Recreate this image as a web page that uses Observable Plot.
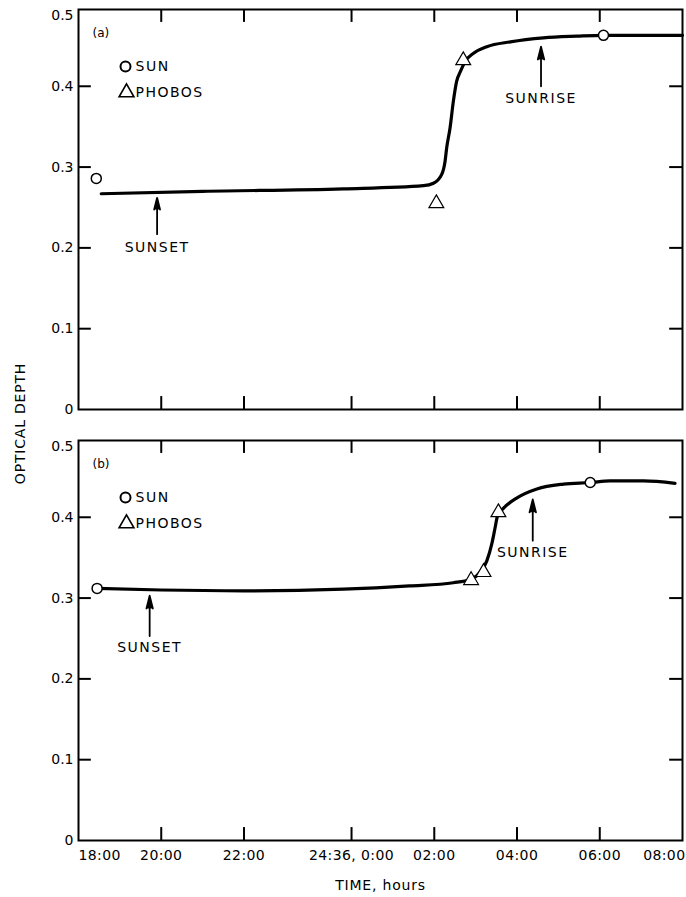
<!DOCTYPE html>
<html>
<head>
<meta charset="utf-8">
<script src="https://cdn.jsdelivr.net/npm/d3@7"></script>
<script src="https://cdn.jsdelivr.net/npm/@observablehq/plot@0.6"></script>
<style>
  html, body { margin: 0; padding: 0; background: white; }
</style>
</head>
<body>
<div id="chart"></div>
<script>
// ---- axis ticks (hours since 18:00; Mars sol of 24:36) ----
const xTickHours  = [0, 2, 4, 6.6, 8.6, 10.6, 12.6, 14.6];
const xTickLabels = ["18:00", "20:00", "22:00", "24:36, 0:00", "02:00", "04:00", "06:00", "08:00"];
const yTicks      = [0, 0.1, 0.2, 0.3, 0.4, 0.5];
const yTickLabels = ["0", "0.1", "0.2", "0.3", "0.4", "0.5"];

const panels      = ["a", "b"];
const panelLabels = ["(a)", "(b)"];

// ---- panel (a) ----
const curveA_hours = [0.55, 3.0, 6.4, 8.34, 8.58, 8.78, 8.86, 8.90, 8.98, 9.06, 9.14, 9.23, 9.35, 9.55, 9.87, 10.44, 11.24, 12.05, 12.69, 14.6];
const curveA_depth = [0.267, 0.270, 0.273, 0.277, 0.280, 0.291, 0.307, 0.324, 0.348, 0.381, 0.406, 0.418, 0.431, 0.441, 0.449, 0.455, 0.460, 0.462, 0.463, 0.463];
const sunA_hours    = [0.43, 12.69];
const sunA_depth    = [0.286, 0.463];
const phobosA_hours = [8.65, 9.3];
const phobosA_depth = [0.255, 0.432];

// ---- panel (b) ----
const curveB_hours = [0.45, 2.0, 4.0, 6.4, 8.0, 9.06, 9.47, 9.71, 9.87, 9.99, 10.07, 10.13, 10.27, 10.6, 11.08, 11.72, 12.37, 12.85, 13.66, 14.42];
const curveB_depth = [0.312, 0.310, 0.309, 0.311, 0.315, 0.319, 0.323, 0.332, 0.346, 0.367, 0.387, 0.402, 0.411, 0.424, 0.435, 0.441, 0.443, 0.445, 0.445, 0.442];
const sunB_hours    = [0.45, 12.37];
const sunB_depth    = [0.312, 0.443];
const phobosB_hours = [9.49, 9.79, 10.15];
const phobosB_depth = [0.322, 0.332, 0.406];

// ---- annotations ----
const noteLabels = ["SUNSET", "SUNRISE", "SUNSET", "SUNRISE"];
const notePanel  = ["a", "a", "b", "b"];
const noteHour   = [1.90, 11.18, 1.72, 10.98];
const noteTip    = [0.262, 0.449, 0.303, 0.422];
const noteTail   = [0.217, 0.400, 0.253, 0.371];
const noteText   = [0.201, 0.385, 0.239, 0.356];

const legendNames = ["SUN", "PHOBOS"];

// ---- build tables ----
const curves = [
  ...curveA_hours.map((h, i) => ({panel: "a", hour: h, depth: curveA_depth[i]})),
  ...curveB_hours.map((h, i) => ({panel: "b", hour: h, depth: curveB_depth[i]}))
];
const suns = [
  ...sunA_hours.map((h, i) => ({panel: "a", hour: h, depth: sunA_depth[i]})),
  ...sunB_hours.map((h, i) => ({panel: "b", hour: h, depth: sunB_depth[i]}))
];
const phobos = [
  ...phobosA_hours.map((h, i) => ({panel: "a", hour: h, depth: phobosA_depth[i]})),
  ...phobosB_hours.map((h, i) => ({panel: "b", hour: h, depth: phobosB_depth[i]}))
];
const notes = noteLabels.map((t, i) => ({label: t, panel: notePanel[i], hour: noteHour[i], tip: noteTip[i], tail: noteTail[i], text: noteText[i]}));
const xTicks = xTickHours.map((h, i) => ({hour: h, label: xTickLabels[i]}));
const yLab = yTicks.map((v, i) => ({v, label: yTickLabels[i]}));

const X0 = 0, X1 = 14.6, Y0 = 0, Y1 = 0.495;
const tickLenX = 0.31;   // hours ≈ 13px
const tickLenY = 0.016;  // depth ≈ 13px
const innerX = xTickHours.slice(1, -1);
const innerY = yTicks.slice(1, -1);

const font = "DejaVu Sans";

const chart = Plot.plot({
  width: 686,
  height: 897,
  marginLeft: 78,
  marginRight: 4,
  marginTop: 8,
  marginBottom: 57,
  style: {fontFamily: font, fontSize: "14px", background: "white", color: "black"},
  x: {domain: [X0, X1], axis: null},
  y: {domain: [Y0, Y1], axis: null},
  fy: {domain: panels, axis: null, paddingInner: 0.072, paddingOuter: 0, label: null},
  marks: [
    Plot.frame({stroke: "black", strokeWidth: 2}),
    // inward ticks
    Plot.ruleY(innerY, {y: d => d, x1: X0, x2: X0 + tickLenX, stroke: "black", strokeWidth: 2}),
    Plot.ruleY(innerY, {y: d => d, x1: X1 - tickLenX, x2: X1, stroke: "black", strokeWidth: 2}),
    Plot.ruleX(innerX, {x: d => d, y1: Y0, y2: Y0 + tickLenY, stroke: "black", strokeWidth: 2}),
    Plot.ruleX(innerX, {x: d => d, y1: Y1 - tickLenY, y2: Y1, stroke: "black", strokeWidth: 2}),
    // y tick labels
    Plot.text(yLab.slice(0, -1), {x: () => X0, y: "v", text: "label", textAnchor: "end", lineAnchor: "middle", dx: -5, fontSize: 14}),
    Plot.text(yLab.slice(-1), {x: () => X0, y: () => Y1, text: "label", textAnchor: "end", lineAnchor: "top", dx: -5, dy: 1, fontSize: 14}),
    // x tick labels (bottom panel only)
    Plot.text(xTicks.slice(0, 1), {x: "hour", y: () => Y0, fy: () => "b", text: "label", textAnchor: "start", lineAnchor: "middle", dy: 15, fontSize: 14}),
    Plot.text(xTicks.slice(1, -1), {x: "hour", y: () => Y0, fy: () => "b", text: "label", textAnchor: "middle", lineAnchor: "middle", dy: 15, fontSize: 14}),
    Plot.text(xTicks.slice(-1), {x: "hour", y: () => Y0, fy: () => "b", text: "label", textAnchor: "end", lineAnchor: "middle", dx: 3, dy: 15, fontSize: 14}),
    // axis titles
    Plot.text(["TIME, hours"], {x: null, y: null, fy: () => "b", frameAnchor: "bottom", textAnchor: "middle", lineAnchor: "middle", dy: 45, fontSize: 14}),
    Plot.text(["OPTICAL DEPTH"], {x: null, y: null, fy: () => "b", frameAnchor: "top-left", textAnchor: "middle", lineAnchor: "middle", dx: -58, dy: -17, rotate: -90, fontSize: 14}),
    // panel labels
    Plot.text(panels, {x: null, y: null, fy: d => d, text: (d, i) => panelLabels[i], frameAnchor: "top-left", dx: 14, dy: 24, textAnchor: "start", lineAnchor: "middle", fontSize: 12}),
    // legend
    Plot.dot([legendNames[0]], {x: null, y: null, frameAnchor: "top-left", dx: 47, dy: 57, r: 5, symbol: "circle", fill: "white", stroke: "black", strokeWidth: 2}),
    Plot.dot([legendNames[1]], {x: null, y: null, frameAnchor: "top-left", dx: 48, dy: 83, r: 5.5, symbol: "triangle", fill: "white", stroke: "black", strokeWidth: 1.6}),
    Plot.text([legendNames[0]], {x: null, y: null, frameAnchor: "top-left", dx: 57, dy: 57, textAnchor: "start", lineAnchor: "middle", fontSize: 14}),
    Plot.text([legendNames[1]], {x: null, y: null, frameAnchor: "top-left", dx: 57, dy: 83, textAnchor: "start", lineAnchor: "middle", fontSize: 14}),
    // data curve
    Plot.line(curves, {x: "hour", y: "depth", fy: "panel", z: "panel", curve: "monotone-x", stroke: "black", strokeWidth: 3.2}),
    // measurements
    Plot.dot(phobos, {x: "hour", y: "depth", fy: "panel", symbol: "triangle", r: 5.5, fill: "white", stroke: "black", strokeWidth: 1.2}),
    Plot.dot(suns, {x: "hour", y: "depth", fy: "panel", symbol: "circle", r: 5, fill: "white", stroke: "black", strokeWidth: 1.5}),
    // annotation arrows
    Plot.arrow(notes, {x1: "hour", x2: "hour", y1: "tail", y2: "tip", fy: "panel", stroke: "black", fill: "black", strokeWidth: 1.8, headLength: 11, headAngle: 28}),
    Plot.text(notes, {x: "hour", y: "text", fy: "panel", text: "label", textAnchor: "middle", lineAnchor: "middle", fontSize: 14})
  ]
});

// letter spacing to match the wide lettering of the original
const spaced = new Set([...legendNames, ...noteLabels]);
d3.select(chart).selectAll("text").each(function () {
  const t = this.textContent;
  if (spaced.has(t)) this.style.letterSpacing = "1.5px";
  else if (t === "TIME, hours" || t === "OPTICAL DEPTH") this.style.letterSpacing = "0.8px";
  else if (xTickLabels.includes(t)) this.style.letterSpacing = "0.4px";
});

document.getElementById("chart").appendChild(chart);
</script>
</body>
</html>
